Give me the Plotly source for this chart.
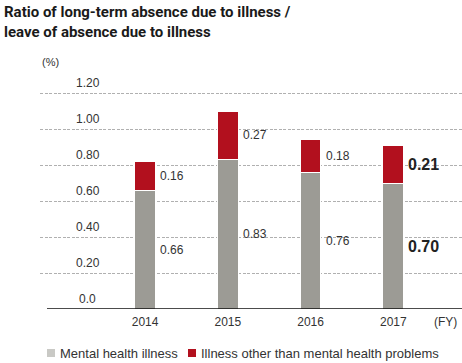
import plotly.graph_objects as go

years = ["2014", "2015", "2016", "2017"]
mental = [0.66, 0.83, 0.76, 0.70]
other = [0.16, 0.27, 0.18, 0.21]
series_names = ["Mental health illness", "Illness other than mental health problems"]
y_tick_vals = [0.0, 0.2, 0.4, 0.6, 0.8, 1.0, 1.2]
y_tick_text = ["0.0", "0.20", "0.40", "0.60", "0.80", "1.00", "1.20"]
title_lines = ["Ratio of long-term absence due to illness /", "leave of absence due to illness"]

GRAY = "#9c9b95"
RED = "#b2101e"
LEG_GRAY = "#c9c9c5"
TXT = "#333333"
FONT = "Liberation Sans"
xs = list(range(len(years)))

fig = go.Figure()
fig.add_bar(x=xs, y=mental, name=series_names[0], marker=dict(color=GRAY, line=dict(color="white", width=1)),
            width=0.25, showlegend=False)
fig.add_bar(x=xs, y=other, name=series_names[1], marker=dict(color=RED, line=dict(color="white", width=1)),
            width=0.25, showlegend=False)

ann = []
# value labels
for i, (m, o) in enumerate(zip(mental, other)):
    last = i == len(years) - 1
    f = dict(family=FONT, size=16 if last else 12, color="#222" if last else TXT)
    txt_m = f"<b>{m:.2f}</b>" if last else f"{m:.2f}"
    txt_o = f"<b>{o:.2f}</b>" if last else f"{o:.2f}"
    ann.append(dict(x=i, y=m / 2, text=txt_m, xref="x", yref="y", xanchor="left", yanchor="middle",
                    xshift=13, showarrow=False, font=f))
    ann.append(dict(x=i, y=m + o / 2, text=txt_o, xref="x", yref="y", xanchor="left", yanchor="middle",
                    xshift=13, showarrow=False, font=f))
# y tick labels above gridlines
for v, t in zip(y_tick_vals, y_tick_text):
    ann.append(dict(x=-0.69, y=v, text=t, xref="x", yref="y", xanchor="center", yanchor="bottom",
                    yshift=1, showarrow=False, font=dict(family=FONT, size=12, color=TXT)))
# fixed text
ann = ann + [
    dict(xref="paper", yref="paper", x=(50 - 40) / 422, y=1 - (62 - 84) / 225, text="(%)", showarrow=False,
         xanchor="center", yanchor="middle", font=dict(family=FONT, size=11, color=TXT)),
    dict(xref="paper", yref="paper", x=(445 - 40) / 422, y=-(321.5 - 309) / 225, text="(FY)", showarrow=False,
         xanchor="center", yanchor="middle", font=dict(family=FONT, size=12, color=TXT)),
    dict(xref="paper", yref="paper", x=-38 / 422, y=1 + (84 - 1) / 225, text="<b>" + "<br>".join(title_lines) + "</b>",
         showarrow=False, xanchor="left", yanchor="top", align="left",
         font=dict(family="Roboto, sans-serif", size=15, color="#1a1a1a")),
    dict(xref="paper", yref="paper", x=(58 - 40) / 422, y=-(353 - 309) / 225, text=series_names[0], showarrow=False,
         xanchor="left", yanchor="middle", font=dict(family=FONT, size=13, color=TXT)),
    dict(xref="paper", yref="paper", x=(199 - 40) / 422, y=-(353 - 309) / 225, text=series_names[1], showarrow=False,
         xanchor="left", yanchor="middle", font=dict(family=FONT, size=13, color=TXT)),
]

shapes = [
    dict(type="line", xref="paper", yref="y", x0=(47 - 40) / 422, x1=1, y0=0, y1=0,
         line=dict(color="#111", width=1.5)),
    dict(type="rect", xref="paper", yref="paper", x0=(47 - 40) / 422, x1=(55 - 40) / 422,
         y0=-(357 - 309) / 225, y1=-(349 - 309) / 225, fillcolor=LEG_GRAY, line=dict(width=0)),
    dict(type="rect", xref="paper", yref="paper", x0=(188 - 40) / 422, x1=(196 - 40) / 422,
         y0=-(357 - 309) / 225, y1=-(349 - 309) / 225, fillcolor=RED, line=dict(width=0)),
]

fig.update_layout(
    barmode="stack",
    width=462, height=363,
    margin=dict(l=40, r=0, t=84, b=54),
    paper_bgcolor="white", plot_bgcolor="white",
    showlegend=False,
    annotations=ann, shapes=shapes,
    xaxis=dict(range=[-1.27, 3.83], tickvals=xs, ticktext=years, showgrid=False, zeroline=False,
               showline=False, ticks="", ticklabelstandoff=4,
               tickfont=dict(family=FONT, size=12, color=TXT), fixedrange=True),
    yaxis=dict(range=[0, 1.25], tickvals=y_tick_vals[1:], showticklabels=False, showgrid=True,
               gridcolor="#b0b0b0", gridwidth=1, griddash="3px,1.5px", zeroline=False, showline=False,
               ticks="", fixedrange=True),
)
fig.write_html("out.html", config={"displayModeBar": False},
               post_script="document.body.style.margin='0';document.body.style.overflow='hidden';")
